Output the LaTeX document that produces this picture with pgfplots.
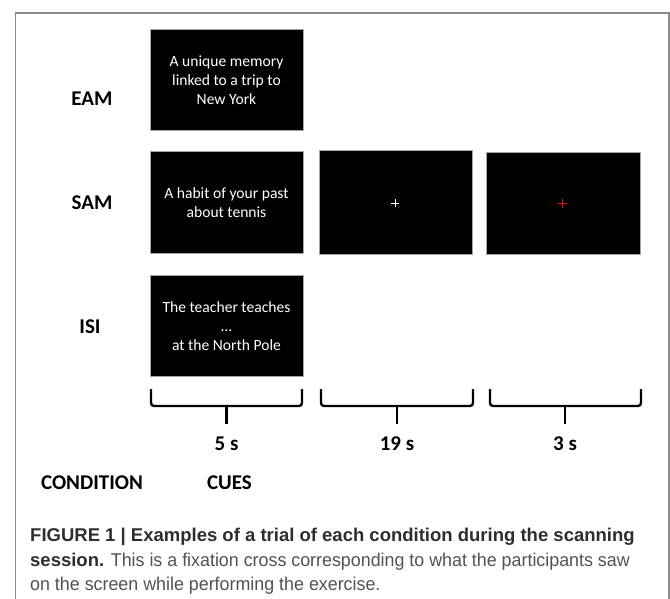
\documentclass[border=0pt]{standalone}
\usepackage{pgfplots}
\pgfplotsset{compat=1.18}
\usepackage{fontspec}
\setmainfont{Carlito}
\newfontfamily\capfont{Liberation Sans}
\newfontfamily\capfontn[FakeStretch=0.965]{Liberation Sans}
\begin{document}
\begin{tikzpicture}
\begin{axis}[
 width=670pt,height=598pt,scale only axis,
 xmin=0,xmax=670,ymin=0,ymax=598,y dir=reverse,
 hide axis, clip=false,
]
% outer frame
\addplot[draw=black!45, line width=1.3pt] coordinates {(15.5,603) (15.5,13) (669,13) (669,603)};
% boxes
\addplot[fill=black, draw=black!35, line width=0.6pt] coordinates {(150,29.3) (303,29.3) (303,130) (150,130)} -- cycle;
\addplot[fill=black, draw=black!35, line width=0.6pt] coordinates {(150,151.7) (303,151.7) (303,253.3) (150,253.3)} -- cycle;
\addplot[fill=black, draw=black!35, line width=0.6pt] coordinates {(319,150.3) (472,150.3) (472,254.3) (319,254.3)} -- cycle;
\addplot[fill=black, draw=black!35, line width=0.6pt] coordinates {(486,152.3) (640,152.3) (640,254.3) (486,254.3)} -- cycle;
\addplot[fill=black, draw=black!35, line width=0.6pt] coordinates {(150,275.3) (303,275.3) (303,376.7) (150,376.7)} -- cycle;
% crosses
\addplot[only marks, mark=+, mark size=4, mark options={draw=white, line width=1pt}] coordinates {(395,203)};
\addplot[only marks, mark=+, mark size=4.5, mark options={draw=red, line width=1pt}] coordinates {(562,203)};
% braces
\addplot[black, line width=2.4pt, rounded corners=3pt] coordinates {(151,389) (151,406) (302,406) (302,389)};
\addplot[black, line width=2.4pt] coordinates {(226.5,406) (226.5,424)};
\addplot[black, line width=2.4pt, rounded corners=3pt] coordinates {(321,389) (321,406) (473,406) (473,389)};
\addplot[black, line width=2.4pt] coordinates {(397,406) (397,424)};
\addplot[black, line width=2.4pt, rounded corners=3pt] coordinates {(490,389) (490,406) (641,406) (641,389)};
\addplot[black, line width=2.4pt] coordinates {(565,406) (565,424)};
% box texts
\node[text=white, align=center, font=\fontsize{15.6}{19}\selectfont] at (axis cs:226.5,80) {A unique memory\\linked to a trip to\\New York};
\node[text=white, align=center, font=\fontsize{15.6}{19}\selectfont] at (axis cs:226.5,203) {A habit of your past\\about tennis};
\node[text=white, align=center, font=\fontsize{15.6}{19}\selectfont] at (axis cs:226.5,326) {The teacher teaches\\…\\at the North Pole};
% labels
\node[font=\bfseries\fontsize{21}{25}\selectfont] at (axis cs:92,99) {EAM};
\node[font=\bfseries\fontsize{21}{25}\selectfont] at (axis cs:92,203) {SAM};
\node[font=\bfseries\fontsize{21}{25}\selectfont] at (axis cs:90,327) {ISI};
\node[font=\bfseries\fontsize{21}{25}\selectfont] at (axis cs:226.5,444) {5 s};
\node[font=\bfseries\fontsize{21}{25}\selectfont] at (axis cs:397,444) {19 s};
\node[font=\bfseries\fontsize{21}{25}\selectfont] at (axis cs:565,444) {3 s};
\node[font=\bfseries\fontsize{21}{25}\selectfont] at (axis cs:92,483) {CONDITION};
\node[font=\bfseries\fontsize{21}{25}\selectfont] at (axis cs:229.5,483) {CUES};
% caption
\node[anchor=base west, inner sep=0pt, text=black!82, font=\capfont\bfseries\fontsize{18.5}{24}\selectfont] at (axis cs:30,541.5) {FIGURE 1 | Examples of a trial of each condition during the scanning};
\node[anchor=base west, inner sep=0pt, text=black!68, font=\capfontn\fontsize{18.5}{24}\selectfont] at (axis cs:30,566.5) {{\capfont\bfseries\color{black!82}session.} This is a fixation cross corresponding to what the participants saw};
\node[anchor=base west, inner sep=0pt, text=black!68, font=\capfontn\fontsize{18.5}{24}\selectfont] at (axis cs:30,590.5) {on the screen while performing the exercise.};
\end{axis}
\pgfresetboundingbox
\path (0,0) rectangle (670pt,598pt);
\end{tikzpicture}
\end{document}
